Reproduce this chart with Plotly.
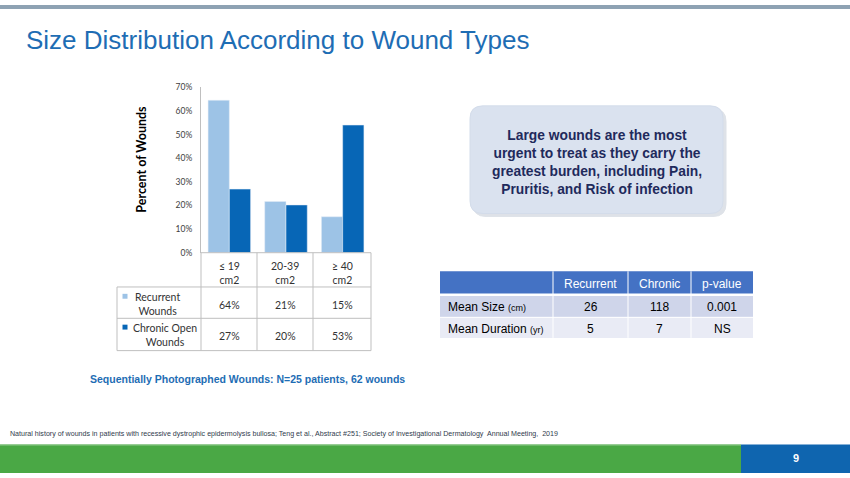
import plotly.graph_objects as go

W, H = 850, 478

# chart data
size_bins = ["≤ 19<br>cm2", "20-39<br>cm2", "≥ 40<br>cm2"]
recurrent_pct = [64.5, 21.7, 15.2]
chronic_pct = [26.9, 20.2, 54.0]
recurrent_labels = ["64%", "21%", "15%"]
chronic_labels = ["27%", "20%", "53%"]
y_ticks = [0, 10, 20, 30, 40, 50, 60, 70]

# summary table
table_cols = ["Recurrent", "Chronic", "p-value"]
table_rows = ["Mean Size", "Mean Duration"]
table_units = ["(cm)", "(yr)"]
table_vals = [["26", "118", "0.001"], ["5", "7", "NS"]]

LIGHT = "#9DC3E6"
DARK = "#0766B6"
GRID = "#BFBFBF"
CHART_FONT = "Lato"
SLIDE_FONT = "Liberation Sans"


def px(x):
    return x / W


def py(y):
    return 1 - y / H


def rect(x0, y0, x1, y1, color, layer="below", line=None):
    return dict(type="rect", xref="paper", yref="paper",
                x0=px(x0), x1=px(x1), y0=py(y1), y1=py(y0),
                fillcolor=color, line=line or dict(width=0), layer=layer)


def hline(x0, x1, y, color=GRID, width=1):
    return dict(type="line", xref="paper", yref="paper", x0=px(x0), x1=px(x1),
                y0=py(y), y1=py(y), line=dict(color=color, width=width))


def vline(x, y0, y1, color=GRID, width=1):
    return dict(type="line", xref="paper", yref="paper", x0=px(x), x1=px(x),
                y0=py(y0), y1=py(y1), line=dict(color=color, width=width))


def rounded(x0, y0, x1, y1, r, fill, line_color, opacity=1.0):
    p = (f"M {px(x0 + r)} {py(y0)} L {px(x1 - r)} {py(y0)} "
         f"Q {px(x1)} {py(y0)} {px(x1)} {py(y0 + r)} "
         f"L {px(x1)} {py(y1 - r)} Q {px(x1)} {py(y1)} {px(x1 - r)} {py(y1)} "
         f"L {px(x0 + r)} {py(y1)} Q {px(x0)} {py(y1)} {px(x0)} {py(y1 - r)} "
         f"L {px(x0)} {py(y0 + r)} Q {px(x0)} {py(y0)} {px(x0 + r)} {py(y0)} Z")
    return dict(type="path", xref="paper", yref="paper", path=p,
                fillcolor=fill, line=dict(color=line_color, width=1),
                opacity=opacity, layer="below")


def text(x, y, s, size, color="#000000", family=SLIDE_FONT, xanchor="center", **kw):
    return dict(x=px(x), y=py(y), xref="paper", yref="paper", text=s,
                showarrow=False, xanchor=xanchor, yanchor="middle",
                font=dict(size=size, color=color, family=family), **kw)


fig = go.Figure()
fig.add_trace(go.Bar(x=[0, 1, 2], y=recurrent_pct, marker_color=LIGHT,
                     name="Recurrent Wounds", hoverinfo="skip"))
fig.add_trace(go.Bar(x=[0, 1, 2], y=chronic_pct, marker_color=DARK,
                     name="Chronic Open Wounds", hoverinfo="skip"))

shapes = []
annotations = []

# slide furniture
shapes.append(rect(0, 0, W, 4, "#8EA2B3"))
shapes.append(rect(0, 449, 741, H, "#4AA845"))
shapes.append(hline(0, 741, 449.5, "#86C483", 1))
shapes.append(rect(741, 449, W, H, "#0F65AF"))
annotations.append(text(24, 36, "Size Distribution According to Wound Types", 26,
                        "#1E6DB4", xanchor="left"))
annotations.append(text(796, 463, "<b>9</b>", 11, "#FFFFFF"))
annotations.append(text(8, 438, "Natural history of wounds in patients with recessive dystrophic "
                        "epidermolysis bullosa; Teng et al., Abstract #251; Society of Investigational "
                        "Dermatology  Annual Meeting,  2019", 7.1, "#2F3B4C", xanchor="left"))
annotations.append(text(88, 382, "<b>Sequentially Photographed Wounds: N=25 patients, 62 wounds</b>",
                        10.5, "#1E6DB4", xanchor="left"))

# data table under the bar chart
col_edges = [201, 257, 313, 371]
row_edges = [253, 288, 320, 353]
for x in col_edges:
    shapes.append(vline(x, 253, 353))
for y in row_edges[1:]:
    shapes.append(hline(117, 371, y))
shapes.append(hline(201, 371, 253))
shapes.append(vline(117, 288, 353))
for i, lab in enumerate(size_bins):
    cx = (col_edges[i] + col_edges[i + 1]) / 2
    annotations.append(text(cx, 273.5, lab, 10.5, "#333333", CHART_FONT))
    annotations.append(text(cx, 306.5, recurrent_labels[i], 10.5, "#333333", CHART_FONT))
    annotations.append(text(cx, 338.5, chronic_labels[i], 10.5, "#333333", CHART_FONT))
shapes.append(rect(122.5, 295, 127.5, 300, LIGHT, "above"))
shapes.append(rect(122.5, 326.5, 127.5, 331.5, DARK, "above"))
annotations.append(text(157, 305.5, "Recurrent<br>Wounds", 10.5, "#333333", CHART_FONT))
annotations.append(text(165, 337.5, "Chronic Open<br>Wounds", 10.5, "#333333", CHART_FONT))
annotations.append(text(142, 158, "<b>Percent of Wounds</b>", 12.5, "#000000", CHART_FONT,
                        textangle=-90))

# callout box
shapes.append(rounded(473, 106, 726, 216, 13, "#C9D0DA", "#C9D0DA", 0.6))
shapes.append(rounded(470, 103, 723, 213, 13, "#DAE2EF", "#D3DCEA"))
annotations.append(text(597, 161, "<b>Large wounds are the most<br>urgent to treat as they carry the"
                        "<br>greatest burden, including Pain,<br>Pruritis, and Risk of infection</b>",
                        13.8, "#1F2A5C"))

# summary table on the right
tx = [440, 553, 628, 691, 753]
ty = [272, 296, 319, 340]
fills = ["#4472C4", "#CFD5EA", "#E9EBF5"]
for r in range(3):
    shapes.append(rect(tx[0], ty[r], tx[-1], ty[r + 1], fills[r]))
for x in tx[1:-1]:
    shapes.append(vline(x, ty[0], ty[-1], "#FFFFFF", 1))
shapes.append(hline(tx[0], tx[-1], ty[1], "#FFFFFF", 2.5))
shapes.append(hline(tx[0], tx[-1], ty[2], "#FFFFFF", 1))
for j, c in enumerate(table_cols):
    annotations.append(text((tx[j + 1] + tx[j + 2]) / 2, (ty[0] + ty[1]) / 2 + 1, c, 12, "#FFFFFF"))
for i, name in enumerate(table_rows):
    cy = (ty[i + 1] + ty[i + 2]) / 2 + 1
    annotations.append(text(446, cy, f"{name} <span style='font-size:9px'>{table_units[i]}</span>",
                            12, "#000000", xanchor="left"))
    for j, v in enumerate(table_vals[i]):
        annotations.append(text((tx[j + 1] + tx[j + 2]) / 2, cy, v, 12, "#000000"))

fig.update_layout(
    width=W, height=H, margin=dict(l=0, r=0, t=0, b=0),
    paper_bgcolor="#FFFFFF", plot_bgcolor="#FFFFFF",
    showlegend=False, barmode="group", bargap=0.25, bargroupgap=0,
    shapes=shapes, annotations=annotations,
    xaxis=dict(domain=[px(201), px(371)], range=[-0.5, 2.5], showticklabels=False,
               showgrid=False, zeroline=False, fixedrange=True),
    yaxis=dict(domain=[py(253), py(84)], range=[0, 70], tickvals=y_ticks,
               ticktext=[f"{v}%" for v in y_ticks], showgrid=False, zeroline=False,
               showline=True, linecolor=GRID, linewidth=1, ticks="",
               tickfont=dict(size=8.5, color="#404040", family=CHART_FONT),
               ticklabelstandoff=6, fixedrange=True),
)

# the page's default body margin would push the slide off the window
fig.write_html("out.html", config=dict(displayModeBar=False),
               post_script="document.body.style.margin='0';document.body.style.overflow='hidden';")
